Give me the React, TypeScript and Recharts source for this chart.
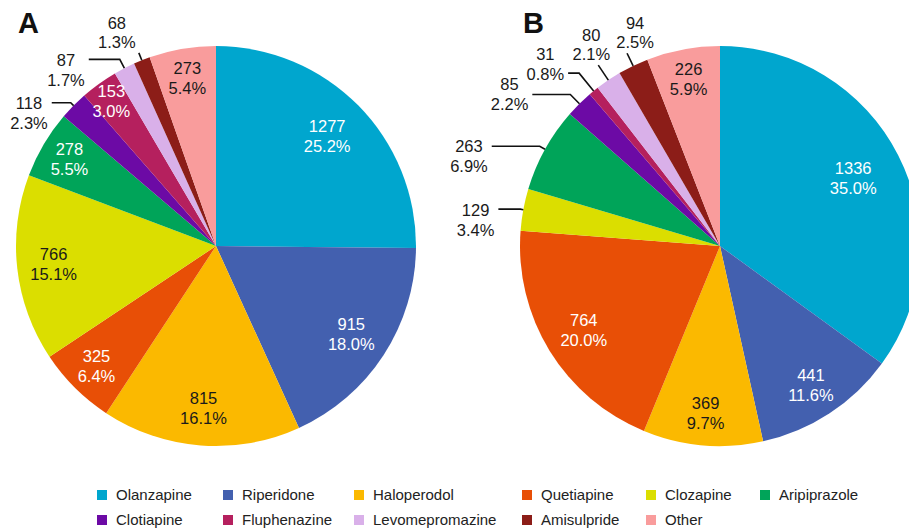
import React from 'react';
import { PieChart, Pie, Cell } from 'recharts';

const categories = ['Olanzapine', 'Riperidone', 'Haloperodol', 'Quetiapine', 'Clozapine', 'Aripiprazole', 'Clotiapine', 'Fluphenazine', 'Levomepromazine', 'Amisulpride', 'Other'];
const valuesA = [1277, 915, 815, 325, 766, 278, 118, 153, 87, 68, 273];
const valuesB = [1336, 441, 369, 764, 129, 263, 85, 31, 80, 94, 226];
const colors = ['#00A6CE', '#4360AF', '#FBB900', '#E84F06', '#DBDE00', '#00A459', '#6C0AA5', '#B5205E', '#D9B0E9', '#8C1D18', '#F99C9C'];
const lightText = [true, true, false, true, false, true, true, true, false, false, false];

const dataA = categories.map((name, i) => ({ name, value: valuesA[i] }));
const dataB = categories.map((name, i) => ({ name, value: valuesB[i] }));

type LabelCfg = { mode: 'left' | 'up'; e: number; h?: number; ty?: number; tx?: number };

const layoutA: Record<string, LabelCfg> = {
  Clotiapine: { mode: 'left', e: 4, h: 19, ty: 0 },
  Levomepromazine: { mode: 'left', e: 10, h: 31, ty: 1 },
  Amisulpride: { mode: 'up', e: 8, tx: -22 },
};
const layoutB: Record<string, LabelCfg> = {
  Aripiprazole: { mode: 'left', e: 6, h: 48, ty: 0 },
  Clozapine: { mode: 'left', e: 3, h: 22, ty: 1 },
  Clotiapine: { mode: 'left', e: 13, h: 38, ty: -10 },
  Fluphenazine: { mode: 'left', e: 23, h: 11, ty: -19 },
  Levomepromazine: { mode: 'up', e: 18, tx: -7 },
  Amisulpride: { mode: 'up', e: 14, tx: 8 },
};

const FONT = '"Liberation Sans", Arial, Helvetica, sans-serif';
const FS = 16.5;
const LH = 20;
const RAD = Math.PI / 180;
const DARK = '#1a1a1a';

function polar(cx: number, cy: number, r: number, a: number) {
  return { x: cx + r * Math.cos(-a * RAD), y: cy + r * Math.sin(-a * RAD) };
}

function textW(s: string) {
  let w = 0;
  for (const c of s) {
    if (c === '.') w += 0.278;
    else if (c === '%') w += 0.889;
    else w += 0.556;
  }
  return w * FS;
}

function makeLabel(layout: Record<string, LabelCfg>) {
  return (props: any) => {
    const { cx, cy, midAngle, outerRadius, percent, value, index } = props;
    const name = categories[index];
    const l1 = String(value);
    const l2 = (percent * 100).toFixed(1) + '%';
    const cfg = layout[name];
    const half = FS * 0.358;
    if (!cfg) {
      const f = percent < 0.04 ? 0.895 : 0.87 - 0.35 * percent;
      const c = polar(cx, cy, outerRadius * f, midAngle);
      const fill = lightText[index] ? '#ffffff' : DARK;
      return (
        <text x={c.x} textAnchor="middle" fill={fill} fontSize={FS} fontFamily={FONT}>
          <tspan x={c.x} y={c.y - LH / 2 + half}>{l1}</tspan>
          <tspan x={c.x} y={c.y + LH / 2 + half}>{l2}</tspan>
        </text>
      );
    }
    const p0 = polar(cx, cy, outerRadius, midAngle);
    const p1 = polar(cx, cy, outerRadius + cfg.e, midAngle);
    const w = Math.max(textW(l1), textW(l2));
    if (cfg.mode === 'left') {
      const p2 = { x: p1.x - (cfg.h || 0), y: p1.y };
      const tx = p2.x - 4 - w / 2;
      const y1 = p2.y + (cfg.ty || 0);
      return (
        <g>
          <polyline points={`${p0.x},${p0.y} ${p1.x},${p1.y} ${p2.x},${p2.y}`} fill="none" stroke="#111" strokeWidth={1.6} />
          <text x={tx} textAnchor="middle" fill={DARK} fontSize={FS} fontFamily={FONT}>
            <tspan x={tx} y={y1 + half}>{l1}</tspan>
            <tspan x={tx} y={y1 + LH + half}>{l2}</tspan>
          </text>
        </g>
      );
    }
    const tx = p1.x + (cfg.tx || 0);
    const b2 = p1.y - 5;
    return (
      <g>
        <polyline points={`${p0.x},${p0.y} ${p1.x},${p1.y}`} fill="none" stroke="#111" strokeWidth={1.6} />
        <text x={tx} textAnchor="middle" fill={DARK} fontSize={FS} fontFamily={FONT}>
          <tspan x={tx} y={b2 - LH + 1}>{l1}</tspan>
          <tspan x={tx} y={b2}>{l2}</tspan>
        </text>
      </g>
    );
  };
}

const labelA = makeLabel(layoutA);
const labelB = makeLabel(layoutB);

const legendCols = ['126px', '131px', '168px', '124px', '114px', '130px'];

export default function App() {
  return (
    <div style={{ position: 'relative', width: 909, height: 530, overflow: 'hidden', fontFamily: FONT }}>
      <style>{'html,body{margin:0;padding:0;overflow:hidden}'}</style>
      <PieChart width={909} height={478} margin={{ top: 0, right: 0, bottom: 0, left: 0 }}>
        <Pie
          data={dataA}
          dataKey="value"
          nameKey="name"
          cx={216}
          cy={246}
          outerRadius={200}
          startAngle={90}
          endAngle={-270}
          stroke="none"
          label={labelA}
          labelLine={false}
          isAnimationActive={false}
        >
          {dataA.map((d, i) => (
            <Cell key={d.name} fill={colors[i]} />
          ))}
        </Pie>
        <Pie
          data={dataB}
          dataKey="value"
          nameKey="name"
          cx={720}
          cy={246}
          outerRadius={200}
          startAngle={90}
          endAngle={-270}
          stroke="none"
          label={labelB}
          labelLine={false}
          isAnimationActive={false}
        >
          {dataB.map((d, i) => (
            <Cell key={d.name} fill={colors[i]} />
          ))}
        </Pie>
      </PieChart>
      <svg width={909} height={45} style={{ position: 'absolute', left: 0, top: 0, pointerEvents: 'none' }}>
        <text x={18} y={33} fontSize={29} fontWeight="bold" fontFamily={FONT} fill="#111">A</text>
        <text x={523} y={33} fontSize={29} fontWeight="bold" fontFamily={FONT} fill="#111">B</text>
      </svg>
      <div
        style={{
          position: 'absolute',
          left: 97,
          top: 482,
          display: 'grid',
          gridTemplateColumns: legendCols.join(' '),
          gridAutoRows: '25px',
          fontSize: 15,
          color: '#222',
        }}
      >
        {categories.map((c, i) => (
          <div key={c} style={{ display: 'flex', alignItems: 'center', whiteSpace: 'nowrap' }}>
            <span style={{ display: 'inline-block', width: 10, height: 10, background: colors[i], marginRight: 9 }} />
            <span>{c}</span>
          </div>
        ))}
      </div>
    </div>
  );
}
